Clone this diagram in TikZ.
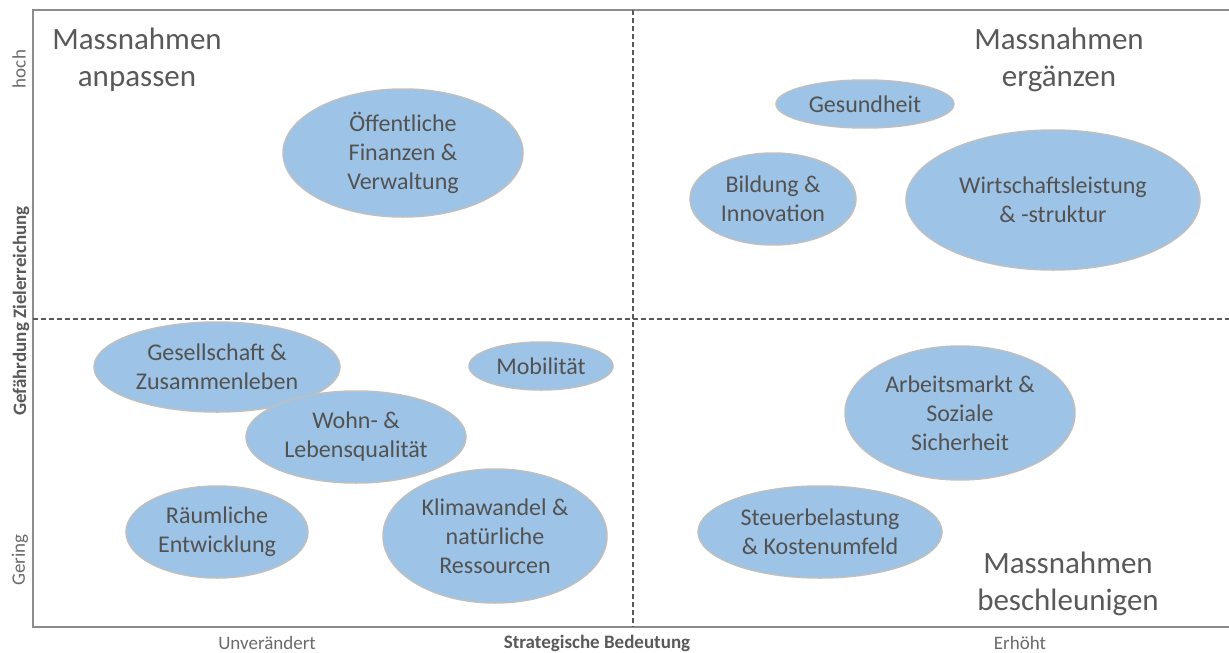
\documentclass[tikz,border=0pt]{standalone}
\usepackage{fontspec}
\setmainfont{Carlito}
\usetikzlibrary{shapes.geometric}
\definecolor{bubfill}{HTML}{9DC3E6}
\definecolor{bubline}{HTML}{BFBFBF}
\definecolor{txt}{HTML}{525252}
\definecolor{axtxt}{HTML}{6A6A6A}
\definecolor{boldtxt}{HTML}{595959}
\definecolor{frame}{HTML}{8C8C8C}
\definecolor{dashc}{HTML}{595959}
\tikzset{
  bub/.style={ellipse, draw=bubline, fill=bubfill, line width=1.5pt, inner sep=0pt,
    align=center, text=txt, font=\fontsize{24}{29}\selectfont},
  corner/.style={align=center, text=boldtxt, inner sep=0pt, font=\fontsize{31}{37}\selectfont},
  axlab/.style={text=axtxt, inner sep=0pt, font=\fontsize{19}{23}\selectfont},
  axbold/.style={text=boldtxt, inner sep=0pt, font=\fontsize{19}{23}\selectfont\bfseries},
  framel/.style={draw=frame, line width=1.6pt},
  divl/.style={draw=dashc, line width=1.4pt, dash pattern=on 5pt off 3pt}
}
\begin{document}
\begin{tikzpicture}[x=1pt,y=-1pt]
\useasboundingbox (0,0) rectangle (1229,653);
% frame
\coordinate (tl) at (33,10);
\coordinate (tr) at (1229,10);
\coordinate (bl) at (33,627);
\coordinate (br) at (1229,627);
\draw[framel] (tr) -- (tl) -- (bl) -- (br);
% quadrant dividers
\coordinate (vt) at (633,10);
\coordinate (vb) at (633,627);
\coordinate (hl) at (33,319);
\coordinate (hr) at (1229,319);
\draw[divl] (vt) -- (vb);
\draw[divl] (hl) -- (hr);
% corner titles
\node[corner] (qa) at (137,60) {Massnahmen\\anpassen};
\node[corner] (qe) at (1059,60) {Massnahmen\\ergänzen};
\node[corner] (qb) at (1068,584) {Massnahmen\\beschleunigen};
% bubbles
\node[bub, minimum width=240pt, minimum height=128pt] (oef) at (403,153) {Öffentliche\\Finanzen \&\\Verwaltung};
\node[bub, minimum width=178pt, minimum height=48pt] (gsd) at (865,104) {Gesundheit};
\node[bub, minimum width=166pt, minimum height=92pt] (bil) at (773,199) {Bildung \&\\Innovation};
\node[bub, minimum width=294pt, minimum height=140pt] (wir) at (1053,200) {Wirtschaftsleistung\\\& -struktur};
\node[bub, minimum width=246pt, minimum height=90pt] (gsl) at (217,367) {Gesellschaft \&\\Zusammenleben};
\node[bub, minimum width=144pt, minimum height=48pt] (mob) at (541,366) {Mobilität};
\node[bub, minimum width=220pt, minimum height=92pt] (woh) at (356,437) {Wohn- \&\\Lebensqualität};
\node[bub, minimum width=182pt, minimum height=92pt] (rau) at (217,532) {Räumliche\\Entwicklung};
\node[bub, minimum width=224pt, minimum height=134pt] (kli) at (495,536) {Klimawandel \&\\natürliche\\Ressourcen};
\node[bub, minimum width=230pt, minimum height=134pt] (arb) at (960,413) {Arbeitsmarkt \&\\Soziale\\Sicherheit};
\node[bub, minimum width=244pt, minimum height=92pt] (ste) at (820,532) {Steuerbelastung\\\& Kostenumfeld};
% axis labels
\node[axlab, rotate=90] (hoch) at (19,69) {hoch};
\node[axbold, rotate=90] (gef) at (21,311) {Gefährdung Zielerreichung};
\node[axlab, rotate=90] (ger) at (20,560) {Gering};
\node[axlab] (unv) at (267,643) {Unverändert};
\node[axbold] (str) at (597,643) {Strategische Bedeutung};
\node[axlab] (erh) at (1020,643) {Erhöht};
\end{tikzpicture}
\end{document}
